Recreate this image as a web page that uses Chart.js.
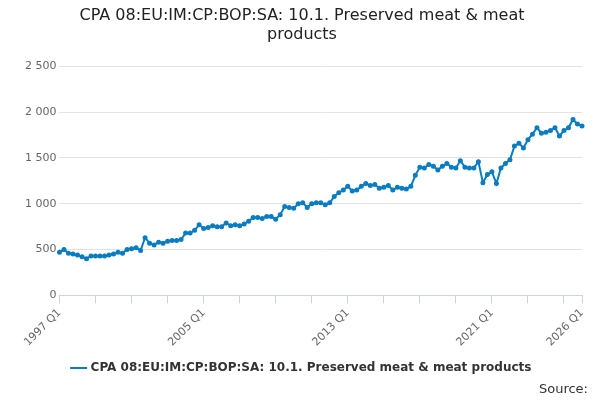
<!DOCTYPE html><html><head><script src="https://cdn.jsdelivr.net/npm/chart.js@4"></script>
<style>body{margin:0;font-family:"DejaVu Sans"}#w{position:relative;width:600px;height:400px}#s{position:absolute;right:12px;bottom:4px;font-size:13px;color:#333}</style></head><body>
<div id="w"><canvas id="c" width="600" height="400"></canvas><div id="s">Source:</div></div>
<script>
const years=[];for(let y=1997;y<=2026;y++)years.push(y);
const labels=[];years.forEach(y=>{for(let q=1;q<=4;q++){if(y<2026||q==1)labels.push(y+' Q'+q);}});
const values=[470,500,460,450,440,420,400,430,430,430,430,440,450,470,460,500,510,520,490,630,570,550,580,570,590,600,600,610,680,680,710,770,730,740,760,750,750,790,760,770,760,780,810,850,850,840,860,860,830,880,970,960,950,1000,1010,960,1000,1010,1010,990,1010,1080,1120,1150,
1190,1140,1150,1190,1220,1200,1210,1170,1180,1200,1150,1180,1170,1160,1190,1310,1400,1390,1430,1410,1370,1410,1440,1400,1390,1470,1400,1390,1390,1460,1230,1320,1350,1220,1390,1440,1480,1630,1660,1610,1700,1760,1830,1770,1780,1800,1830,1740,1800,1830,1920,1870,1850,1830];
const seriesName='CPA 08:EU:IM:CP:BOP:SA: 10.1. Preserved meat & meat products';
Chart.defaults.font.family='DejaVu Sans';
new Chart(document.getElementById('c'),{type:'line',data:{labels,datasets:[{label:seriesName,data:values,borderColor:'#0a7cc1',backgroundColor:'#0a7cc1',borderWidth:2,pointRadius:1.5,pointHoverRadius:1.5,tension:0}]},
options:{responsive:false,animation:false,layout:{padding:{left:22,right:18,bottom:16}},
plugins:{title:{display:true,text:['CPA 08:EU:IM:CP:BOP:SA: 10.1. Preserved meat & meat','products'],font:{size:16,weight:'normal'},color:'#222',padding:{top:6,bottom:22}},
legend:{position:'bottom',labels:{usePointStyle:true,pointStyle:'line',color:'#333',font:{size:12,weight:'bold'},boxWidth:20}}},
scales:{y:{min:0,max:2500,ticks:{stepSize:500,color:'#666',font:{size:11},callback:v=>v>=1000?String(v).replace(/(\d)(\d{3})$/,'$1 $2'):v},grid:{color:'#e3e3e3',drawTicks:false},border:{display:false}},
x:{grid:{drawOnChartArea:false,color:'#c8d4e8',tickLength:8},border:{color:'#c8d4e8'},ticks:{autoSkip:false,maxRotation:45,minRotation:45,color:'#666',font:{size:11},callback:function(v,i){if(i==116||i%32==0)return labels[i];if(i%8==0)return '';return null;}}}}}});
</script></body></html>
